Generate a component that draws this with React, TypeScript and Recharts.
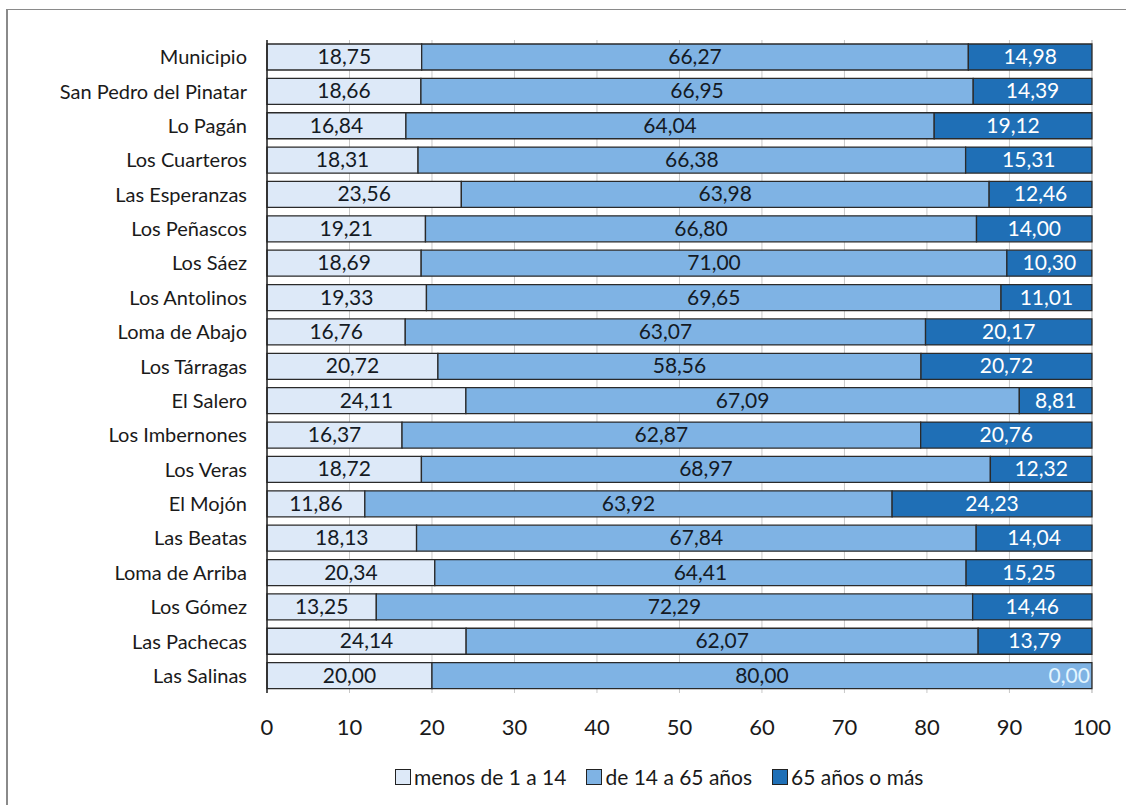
import React from "react";
import { BarChart, Bar, XAxis, YAxis, CartesianGrid, LabelList } from "recharts";

const categories = [
  "Municipio", "San Pedro del Pinatar", "Lo Pagán", "Los Cuarteros", "Las Esperanzas",
  "Los Peñascos", "Los Sáez", "Los Antolinos", "Loma de Abajo", "Los Tárragas",
  "El Salero", "Los Imbernones", "Los Veras", "El Mojón", "Las Beatas",
  "Loma de Arriba", "Los Gómez", "Las Pachecas", "Las Salinas",
];
const menos14 = [18.75, 18.66, 16.84, 18.31, 23.56, 19.21, 18.69, 19.33, 16.76, 20.72, 24.11, 16.37, 18.72, 11.86, 18.13, 20.34, 13.25, 24.14, 20.0];
const de14a65 = [66.27, 66.95, 64.04, 66.38, 63.98, 66.8, 71.0, 69.65, 63.07, 58.56, 67.09, 62.87, 68.97, 63.92, 67.84, 64.41, 72.29, 62.07, 80.0];
const mas65 = [14.98, 14.39, 19.12, 15.31, 12.46, 14.0, 10.3, 11.01, 20.17, 20.72, 8.81, 20.76, 12.32, 24.23, 14.04, 15.25, 14.46, 13.79, 0.0];
const xTicks = [0, 10, 20, 30, 40, 50, 60, 70, 80, 90, 100];
const seriesNames = ["menos de 1 a 14", "de 14 a 65 años", "65 años o más"];

const colors = ["#dde9f8", "#7fb3e4", "#1f6fb6"];
const font = "Lato, 'Open Sans', sans-serif";
const labelSize = 21;

const data = categories.map((name, i) => ({
  name,
  a: menos14[i],
  b: de14a65[i],
  c: mas65[i],
}));

const fmt = (v: number) => v.toFixed(2).replace(".", ",");

function darkLabel(props: any) {
  const { x, y, width, height, value } = props;
  if (!value) return null;
  return (
    <text x={x + width / 2} y={y + height / 2} dy={7} textAnchor="middle" fill="#ffffff" fontSize={labelSize} fontFamily={font}>
      {fmt(value)}
    </text>
  );
}

function lightLabel(props: any) {
  const { x, y, width, height, value } = props;
  return (
    <text x={x + width / 2} y={y + height / 2} dy={7} textAnchor="middle" fill="#141a24" fontSize={labelSize} fontFamily={font}>
      {fmt(value)}
    </text>
  );
}

// middle series also shows the "0,00" of an empty last segment at the right end
function midLabel(props: any) {
  const { x, y, width, height, index } = props;
  const last = mas65[index];
  return (
    <g>
      {lightLabel(props)}
      {last === 0 && (
        <text x={x + width - 2} y={y + height / 2} dy={7} textAnchor="end" fill="#e4f6ff" fontSize={labelSize} fontFamily={font}>
          {fmt(last)}
        </text>
      )}
    </g>
  );
}

export default function App() {
  return (
    <div style={{ position: "absolute", left: 0, top: 0, width: 1126, height: 805, background: "#fff", overflow: "hidden" }}>
      <BarChart
        width={1126}
        height={805}
        data={data}
        layout="vertical"
        margin={{ top: 40, right: 34, left: 7, bottom: 62 }}
        barCategoryGap={4}
      >
        <CartesianGrid horizontal={false} stroke="#c8c8c8" />
        <XAxis
          type="number"
          domain={[0, 100]}
          ticks={xTicks}
          height={50}
          tickSize={0}
          tickMargin={26}
          axisLine={false}
          tick={{ fill: "#1a1a1a", fontSize: 22, fontFamily: font }}
        />
        <YAxis
          type="category"
          dataKey="name"
          width={260}
          tickSize={0}
          tickMargin={20}
          axisLine={{ stroke: "#222", strokeWidth: 1.5 }}
          interval={0}
          tick={{ fill: "#1a1a1a", fontSize: 20, fontFamily: font }}
        />
        <Bar dataKey="a" stackId="s" fill={colors[0]} stroke="#2a2a2a" strokeWidth={1.3} isAnimationActive={false}>
          <LabelList dataKey="a" content={lightLabel} />
        </Bar>
        <Bar dataKey="b" stackId="s" fill={colors[1]} stroke="#2a2a2a" strokeWidth={1.3} isAnimationActive={false}>
          <LabelList dataKey="b" content={midLabel} />
        </Bar>
        <Bar dataKey="c" stackId="s" fill={colors[2]} stroke="#2a2a2a" strokeWidth={1.3} isAnimationActive={false}>
          <LabelList dataKey="c" content={darkLabel} />
        </Bar>
      </BarChart>
      <div
        style={{
          position: "absolute", left: 6, top: 9, width: 1140, height: 820, pointerEvents: "none",
          borderLeft: "2px solid #8a8a8a", borderTop: "1px solid #8a8a8a",
        }}
      />
      <div
        style={{
          position: "absolute", left: 395, top: 764, display: "flex", gap: 20,
          fontFamily: font, fontSize: 21, color: "#1a1a1a", alignItems: "center",
        }}
      >
        {seriesNames.map((n, i) => (
          <span key={n} style={{ display: "flex", alignItems: "center" }}>
            <span
              style={{
                display: "inline-block", width: 14, height: 14, background: colors[i],
                border: "1px solid #222", marginRight: 3,
              }}
            />
            {n}
          </span>
        ))}
      </div>
    </div>
  );
}
